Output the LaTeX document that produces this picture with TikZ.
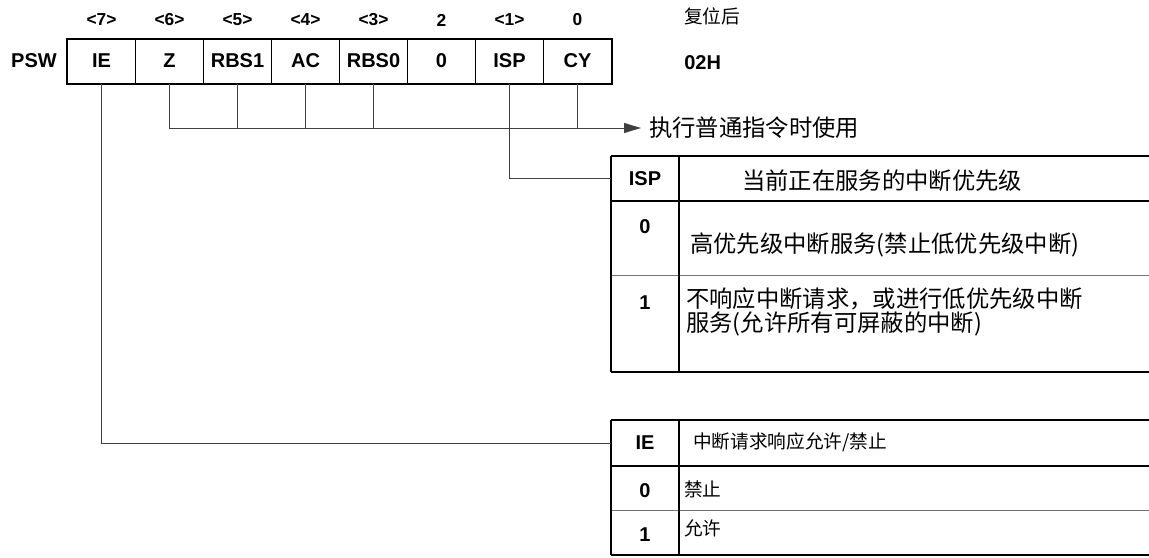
\documentclass[tikz,border=0pt]{standalone}
\usepackage{fontspec}
\setmainfont{Liberation Sans}
\newfontfamily\cjk{Noto Sans CJK SC}
\usetikzlibrary{arrows.meta}
\begin{document}
\begin{tikzpicture}[x=0.75pt,y=-0.75pt,
  cell/.style={draw,line width=0.75pt,minimum width=51pt,minimum height=33pt,inner sep=0pt,font=\bfseries\fontsize{15}{18}\selectfont},
  bitno/.style={font=\bfseries\fontsize{13}{16}\selectfont},
  lbl/.style={font=\bfseries\fontsize{15}{18}\selectfont},
  zh/.style={font=\cjk\fontsize{17.5}{15}\selectfont,anchor=west,inner sep=0pt,align=left},
  zhsmall/.style={font=\cjk\fontsize{14}{16}\selectfont,anchor=west,inner sep=0pt},
  wire/.style={black!75,line width=0.75pt},
  frame/.style={line width=1.5pt},
  rowsep/.style={black!55,line width=0.75pt}]
\useasboundingbox (0,0) rectangle (1149,557);
\foreach \b/\name/\num [count=\i from 0] in {7/IE/<7>,6/Z/<6>,5/RBS1/<5>,4/AC/<4>,3/RBS0/<3>,2/0/2,1/ISP/<1>,0/CY/0} {
  \node[cell] (c\b) at ({101.5+68*\i},61) {\name};
  \node[bitno] (n\b) at ({101.5+68*\i},20) {\num};
}
\draw[frame] (c7.north west) rectangle (c0.south east);
\node[lbl] (psw) at (34,61) {PSW};
\node[zhsmall] (reset) at (684,16) {复位后};
\node[lbl,anchor=west,inner sep=0pt] (resetval) at (684,63) {02H};
\node[zh,inner xsep=6pt] (usage) at (641,128) {执行普通指令时使用};
\draw[wire,-{Triangle[length=12.75pt,width=7.5pt]}] (c6.south) |- (usage.west);
\foreach \b in {5,4,3,0}
  \draw[wire] (c\b.south) -- (c\b.south |- usage.west);
\draw[frame] (611,156) -- (1149,156);
\draw[frame] (611,201) -- (1149,201);
\draw[rowsep] (611,275) -- (1149,275);
\draw[frame] (611,372) -- (1149,372);
\draw[frame] (611,156) -- (611,372);
\draw[frame] (679,156) -- (679,372);
\node[lbl,minimum width=51pt,minimum height=33.75pt,inner sep=0pt] (isph) at (645,178.5) {ISP};
\node[zh] (ispdesc) at (742,181) {当前正在服务的中断优先级};
\node[lbl] (isp0) at (645,227) {0};
\node[zh] (isp0txt) at (690,245) {高优先级中断服务(禁止低优先级中断)};
\node[lbl] (isp1) at (645,303) {1};
\node[zh] (isp1txt) at (686,312) {不响应中断请求，或进行低优先级中断\\服务(允许所有可屏蔽的中断)};
\draw[wire] (c1.south) |- (isph.west);
\draw[frame] (611,420) -- (1149,420);
\draw[frame] (611,466) -- (1149,466);
\draw[rowsep] (611,510) -- (1149,510);
\draw[frame] (611,555) -- (1149,555);
\draw[frame] (611,420) -- (611,555);
\draw[frame] (679,420) -- (679,555);
\node[lbl,minimum width=51pt,minimum height=34.5pt,inner sep=0pt] (ieh) at (645,443) {IE};
\node[zhsmall] (iedesc) at (693,442) {中断请求响应允许/禁止};
\node[lbl] (ie0) at (645,491) {0};
\node[zhsmall] (ie0txt) at (684,489) {禁止};
\node[lbl] (ie1) at (645,535) {1};
\node[zhsmall] (ie1txt) at (684,528) {允许};
\draw[wire] (c7.south) |- (ieh.west);
\end{tikzpicture}
\end{document}
